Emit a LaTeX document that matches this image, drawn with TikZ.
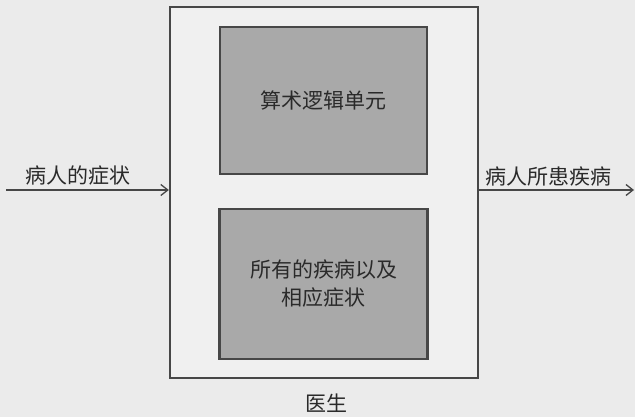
\documentclass[tikz,border=0pt]{standalone}
\usepackage{fontspec}
\newfontfamily\cjk{Noto Sans CJK SC}
\usetikzlibrary{arrows.meta}
\definecolor{bg}{HTML}{EBEBEB}
\definecolor{outerfill}{HTML}{F0F0F0}
\definecolor{innerfill}{HTML}{A9A9A9}
\definecolor{linec}{HTML}{474747}
\definecolor{txt}{HTML}{2A2A2A}
\tikzset{
  box/.style={draw=linec, line width=2.3pt},
  lbl/.style={font=\cjk\fontsize{21}{26}\selectfont, text=txt, inner sep=0pt, align=center},
  arr/.style={draw=linec, line width=2.3pt, -{Straight Barb[length=7pt,width=11pt,line width=1.3pt]}}
}
\begin{document}
\begin{tikzpicture}[x=1pt,y=-1pt]
\fill[bg] (0,0) rectangle (635,417);
\useasboundingbox (0,0) rectangle (635,417);
\node[box, fill=outerfill, minimum width=308pt, minimum height=371pt, inner sep=0pt] (doc) at (324,192.5) {};
\node[box, fill=innerfill, minimum width=207pt, minimum height=147pt, inner sep=0pt] (alu) at (323.5,100.5) {};
\node[box, fill=innerfill, minimum width=208pt, minimum height=150pt, inner sep=0pt] (mem) at (323.5,284) {};
\node[lbl] (alut) at (alu.center) {算术逻辑单元};
\node[lbl] (memt) at (mem.center) {所有的疾病以及\\[2pt]相应症状};
\node[lbl] (doct) at (326,403) {医生};
\coordinate (inL) at (6,190);
\coordinate (outR) at (634,190);
\draw[arr] (inL) -- (inL -| doc.west);
\draw[arr] (outR -| doc.east) -- (outR);
\node[lbl] (int) at (78,176) {病人的症状};
\node[lbl] (outt) at (548,176) {病人所患疾病};
\end{tikzpicture}
\end{document}
